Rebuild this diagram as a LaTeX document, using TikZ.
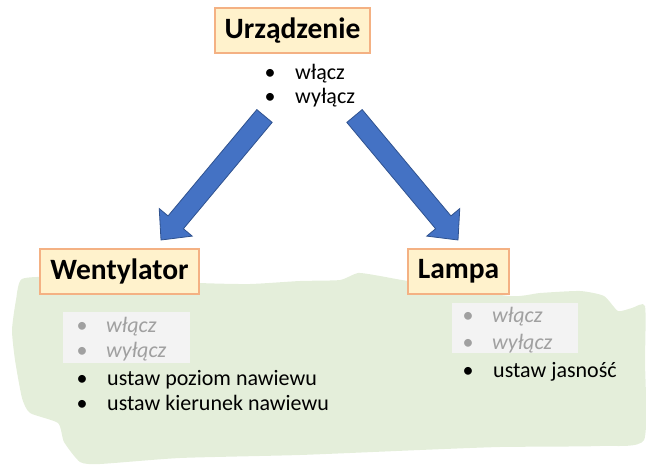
\documentclass[tikz,border=0pt]{standalone}
\usepackage{fontspec}
\setmainfont{Carlito}
\usetikzlibrary{calc}
\definecolor{boxfill}{HTML}{FFF2CC}
\definecolor{boxdraw}{HTML}{F4B183}
\definecolor{arrfill}{HTML}{4472C4}
\definecolor{arrdraw}{HTML}{2F528F}
\definecolor{blob}{HTML}{E4EEDA}
\definecolor{hl}{HTML}{F3F3F3}
\definecolor{greytxt}{HTML}{A0A0A0}
\tikzset{
  classbox/.style={draw=boxdraw, fill=boxfill, line width=1.3pt, inner sep=0pt, font=\fontsize{29.5}{32}\selectfont\bfseries},
  item/.style={anchor=base west, inner sep=0pt, font=\fontsize{22}{25}\selectfont},
  olditem/.style={item, text=greytxt, font=\fontsize{22}{25}\selectfont\itshape},
  bul/.style={anchor=base, inner sep=0pt, font=\fontsize{22}{25}\selectfont},
  oldbul/.style={bul, text=greytxt},
  bigarrow/.style={fill=arrfill, draw=arrdraw, line width=0.8pt, line join=miter},
  hlbox/.style={fill=hl, draw=none}
}
\begin{document}
\begin{tikzpicture}[x=1pt,y=-1pt]
\useasboundingbox (0,0) rectangle (646,468);
% green blob
\fill[blob] plot[smooth cycle, tension=0.35] coordinates {
 (22,279) (60,277) (199,283) (250,284) (300,281) (340,280) (358,273) (380,276) (408,281)
 (509,296) (540,293) (580,291) (604,296) (618,311) (632,308) (645,306) (645,360) (644,440)
 (600,446) (500,447) (420,450) (300,455) (180,458) (100,464) (80,462) (64,442) (58,423)
 (30,413) (22,398) (15,360) (12,330) (16,300)};
% class boxes
\node[classbox, minimum width=155pt, minimum height=45pt] (dev) at (292.5,30.5) {Urządzenie};
\node[classbox, minimum width=159pt, minimum height=45pt] (fan) at (119.5,271.5) {Wentylator};
\node[classbox, minimum width=101pt, minimum height=45pt] (lamp) at (458.5,271.5) {Lampa};
% base class methods
\node[bul] (db1) at (270,80) {•};
\node[item] (d1) at (295,80) {włącz};
\node[bul] (db2) at (270,104) {•};
\node[item] (d2) at (295,104) {wyłącz};
% fan methods
\fill[hlbox] (63,312) rectangle (190,363);
\node[oldbul] (fb1) at (82,332) {•};
\node[olditem] (f1) at (106,332) {włącz};
\node[oldbul] (fb2) at (82,357) {•};
\node[olditem] (f2) at (106,357) {wyłącz};
\node[bul] (fb3) at (82,385) {•};
\node[item] (f3) at (107,385) {ustaw poziom nawiewu};
\node[bul] (fb4) at (82,410) {•};
\node[item] (f4) at (107,410) {ustaw kierunek nawiewu};
% lamp methods
\fill[hlbox] (452,303) rectangle (578,353);
\node[oldbul] (lb1) at (468,323) {•};
\node[olditem] (l1) at (492,323) {włącz};
\node[oldbul] (lb2) at (468,349) {•};
\node[olditem] (l2) at (492,349) {wyłącz};
\node[bul] (lb3) at (468,377) {•};
\node[item] (l3) at (493,377) {ustaw jasność};
% arrows
\coordinate (lat) at (264.5,116);
\coordinate (lah) at (161,240);
\coordinate (lab) at ($(lah)!23pt!(lat)$);
\draw[bigarrow] ($(lat)!10pt!90:(lah)$) -- ($(lab)!10pt!90:(lah)$) -- ($(lab)!21.5pt!90:(lah)$) -- (lah)
  -- ($(lab)!21.5pt!-90:(lah)$) -- ($(lab)!10pt!-90:(lah)$) -- ($(lat)!10pt!-90:(lah)$) -- cycle;
\coordinate (rat) at (354.5,116);
\coordinate (rah) at (458,240);
\coordinate (rab) at ($(rah)!23pt!(rat)$);
\draw[bigarrow] ($(rat)!10pt!90:(rah)$) -- ($(rab)!10pt!90:(rah)$) -- ($(rab)!21.5pt!90:(rah)$) -- (rah)
  -- ($(rab)!21.5pt!-90:(rah)$) -- ($(rab)!10pt!-90:(rah)$) -- ($(rat)!10pt!-90:(rah)$) -- cycle;
\end{tikzpicture}
\end{document}
